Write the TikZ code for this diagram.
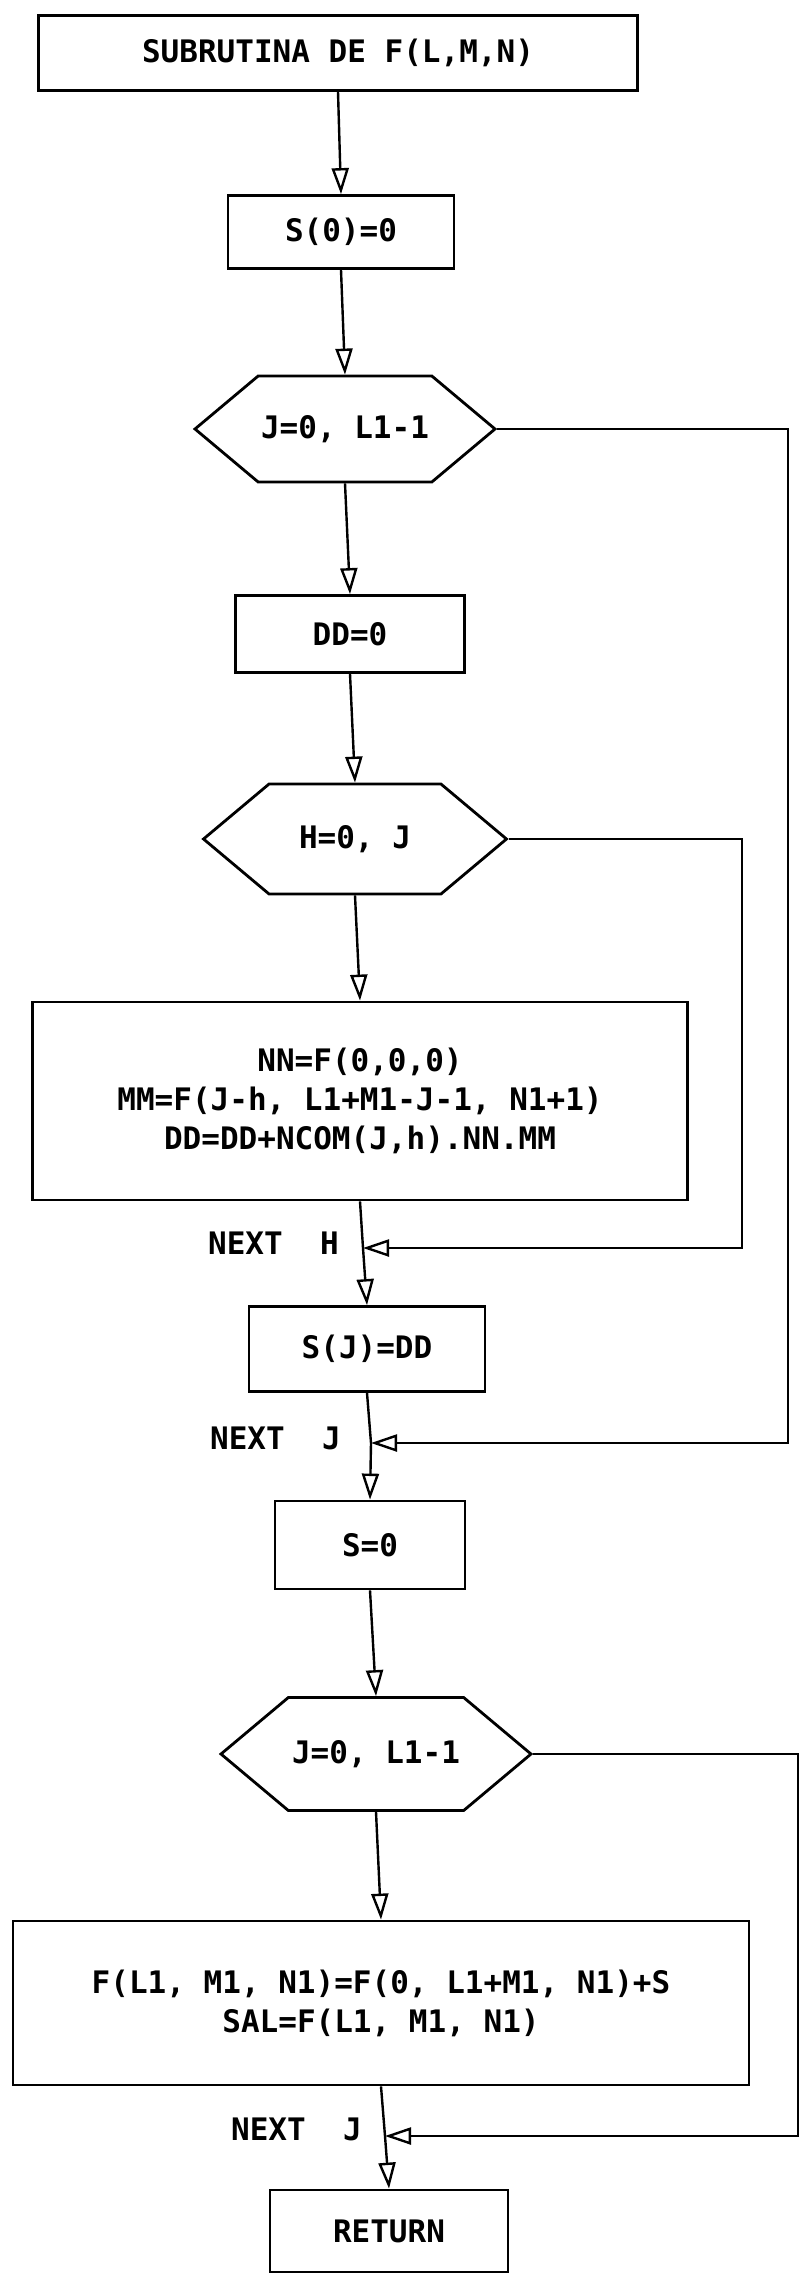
\documentclass[tikz,border=0pt]{standalone}
\usepackage{fontspec}
\newfontfamily\plotfont{DejaVu Sans Mono}
\usetikzlibrary{arrows.meta,shapes.symbols}

\begin{document}
\begin{tikzpicture}[x=1pt, y=-1pt,
			every node/.style={font=\plotfont\bfseries\fontsize{31}{39}\selectfont, align=center, inner sep=0pt},
			process/.style={draw, line width=2.8pt, rectangle},
			hexa/.style={draw, line width=2.8pt, signal, signal to=east and west, signal pointer angle=80},
			flow/.style={line width=2.4pt, -{Triangle[open, length=26pt, width=17pt]}}]

		\useasboundingbox (0,0) rectangle (805,2274);

		\node[process, minimum width=599pt, minimum height=75pt] (top) at (338,53) {SUBRUTINA DE F(L,M,N)};
		\node[process, minimum width=226pt, minimum height=73pt] (s0) at (341,232) {S(0)=0};
		\node[hexa, minimum width=300pt, minimum height=106pt] (hex1) at (345,429) {J=0, L1-1};
		\node[process, minimum width=229pt, minimum height=77pt] (dd0) at (350,634) {DD=0};
		\node[hexa, minimum width=303pt, minimum height=110pt] (hex2) at (355,839) {H=0, J};
		\node[process, minimum width=655pt, minimum height=198pt] (big1) at (360,1101) {NN=F(0,0,0)\\MM=F(J-h, L1+M1-J-1, N1+1)\\DD=DD+NCOM(J,h).NN.MM};
		\node[process, minimum width=236pt, minimum height=85pt] (sj) at (367,1349) {S(J)=DD};
		\node[process, minimum width=190pt, minimum height=88pt] (s) at (370,1545) {S=0};
		\node[hexa, minimum width=310pt, minimum height=113pt] (hex3) at (376,1754) {J=0, L1-1};
		\node[process, minimum width=736pt, minimum height=164pt] (big2) at (381,2003) {F(L1, M1, N1)=F(0, L1+M1, N1)+S\\SAL=F(L1, M1, N1)};
		\node[process, minimum width=238pt, minimum height=82pt] (ret) at (389,2231) {RETURN};

		% junctions of the loops
		\coordinate (nh) at (363,1248);
		\coordinate (nj1) at (371,1443);
		\coordinate (nj2) at (385,2136);
		\coordinate (c1) at (788,1443);
		\coordinate (c2) at (742,1248);
		\coordinate (c3) at (798,2136);

		\node[anchor=east] (lnh) at (339,1243) {NEXT~~H};
		\node[anchor=east] (lnj1) at (341,1438) {NEXT~~J};
		\node[anchor=east] (lnj2) at (362,2129) {NEXT~~J};

		\draw[flow] (top.south) -- (s0.north);
		\draw[flow] (s0.south) -- (hex1.north);
		\draw[flow] (hex1.south) -- (dd0.north);
		\draw[flow] (dd0.south) -- (hex2.north);
		\draw[flow] (hex2.south) -- (big1.north);
		\draw[flow] (big1.south) -- (nh) -- (sj.north);
		\draw[flow] (sj.south) -- (nj1) -- (s.north);
		\draw[flow] (s.south) -- (hex3.north);
		\draw[flow] (hex3.south) -- (big2.north);
		\draw[flow] (big2.south) -- (nj2) -- (ret.north);

		\draw[flow] (hex2.east) -| (c2) -- (nh);
		\draw[flow] (hex1.east) -| (c1) -- (nj1);
		\draw[flow] (hex3.east) -| (c3) -- (nj2);
	\end{tikzpicture}
\end{document}
